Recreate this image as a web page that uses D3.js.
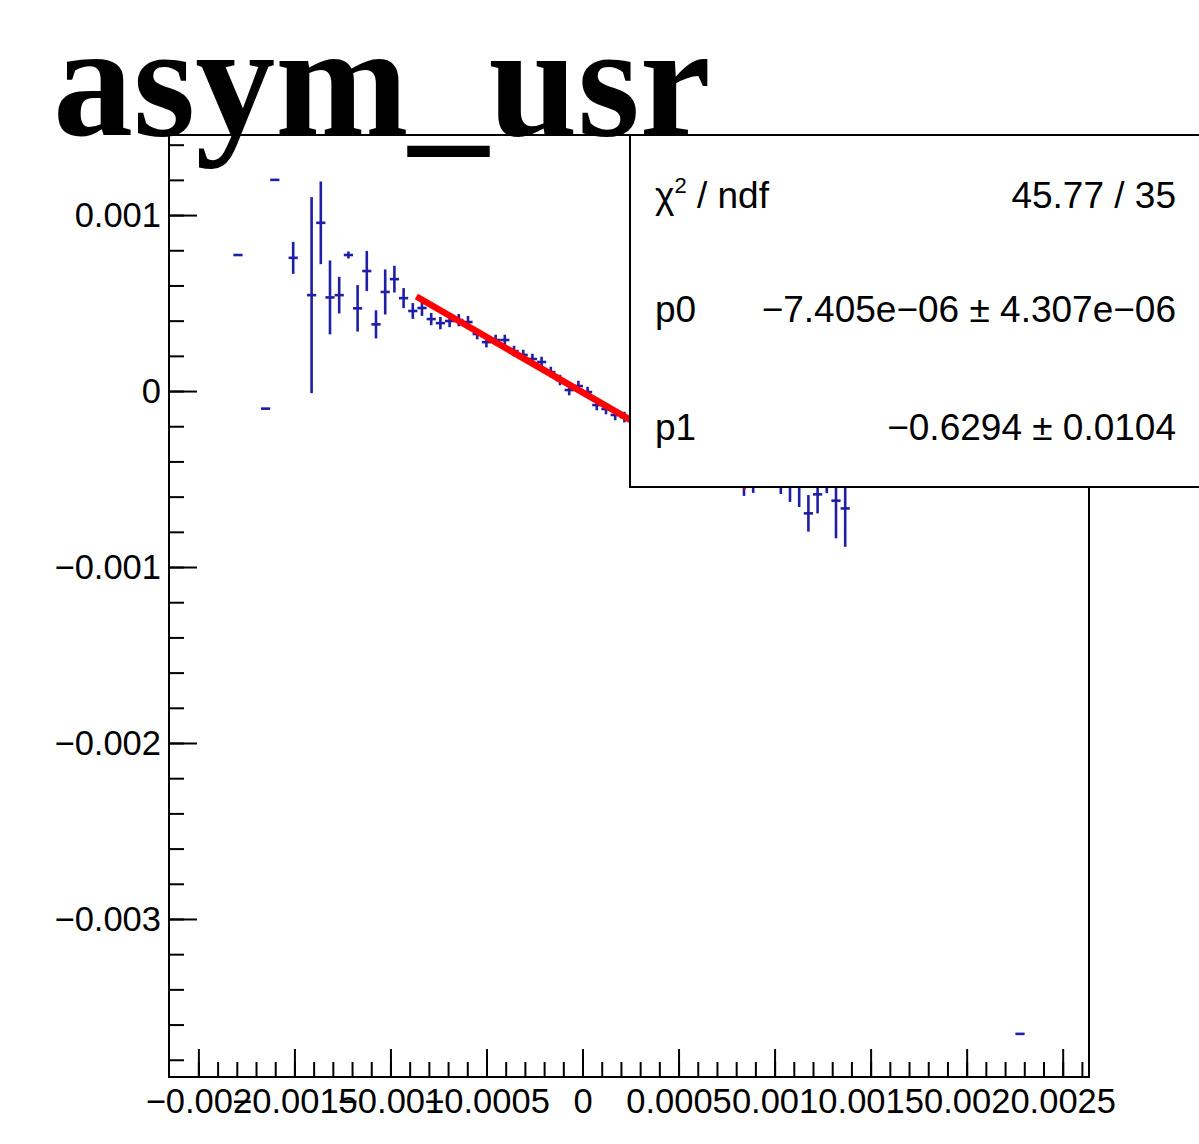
<!DOCTYPE html>
<html><head><meta charset="utf-8">
<script src="https://cdn.jsdelivr.net/npm/d3@7"></script>
<style>body{margin:0;background:#fff}svg{display:block}</style>
</head><body>
<svg id="c" width="1199" height="1144"></svg>
<script>
// ---------- data ----------
const title = "asym_usr";
const histMin = -0.002153, histMax = 0.002637, nBins = 100;
const binIdx = [7, 10, 11, 13, 15, 16, 17, 18, 19, 20, 21, 22, 23, 24, 25, 26, 27, 28, 29, 30,
                31, 32, 33, 34, 35, 36, 37, 38, 39, 40, 41, 42, 43, 44, 45, 46, 47, 48, 49,
                62, 63, 66, 67, 68, 69, 70, 71, 72, 73, 92];
const binVal = [0.000773, -0.0001, 0.0012, 0.000757, 0.000545, 0.000956, 0.000532, 0.000545, 0.000773, 0.00047,
                0.000682, 0.000379, 0.000563, 0.000636, 0.000528, 0.000455, 0.000472, 0.000409, 0.000386, 0.000398,
                0.000403, 0.000392, 0.000324, 0.000278, 0.00029, 0.00029, 0.000227, 0.000205, 0.000182, 0.000165,
                0.000108, 0.0000625, 0.0000057, 0.0000284, -0.0000057, -0.0000795, -0.000102, -0.000136, -0.000148,
                -0.000528, -0.000522, -0.000517, -0.000528, -0.00054, -0.000695, -0.000587, -0.000517, -0.000623, -0.000667,
                -0.003653];
const binErr = [0, 0, 0, 0.000091, 0.000557, 0.000235, 0.00021, 0.000104, 0.00002, 0.000132,
                0.000114, 0.00008, 0.000128, 0.000076, 0.000057, 0.000045, 0.000045, 0.000035, 0.000035, 0.000035,
                0.000035, 0.000035, 0.00003, 0.00003, 0.00003, 0.00003, 0.00003, 0.00003, 0.00003, 0.00003,
                0.00003, 0.00003, 0.00003, 0.00003, 0.00003, 0.00003, 0.00003, 0.00003, 0.00003,
                0.000068, 0.000057, 0.000068, 0.000102, 0.000119, 0.000104, 0.000108, 0.000063, 0.000214, 0.000218,
                0];
const fitP0 = -7.405e-06, fitP1 = -0.6294;
const fitRange = [-0.000865, 0.000855];
const statsNames = ["p0", "p1"];
const statsValues = ["45.77 / 35", "\u22127.405e\u221206 \u00b1 4.307e\u221206", "\u22120.6294 \u00b1 0.0104"];
const xTicks = [-0.002, -0.0015, -0.001, -0.0005, 0, 0.0005, 0.001, 0.0015, 0.002, 0.0025];
const xTickLabels = ["\u22120.002", "\u22120.0015", "\u22120.001", "\u22120.0005", "0", "0.0005", "0.001", "0.0015", "0.002", "0.0025"];
const yTicks = [0.001, 0, -0.001, -0.002, -0.003];
const yTickLabels = ["0.001", "0", "\u22120.001", "\u22120.002", "\u22120.003"];
const yMin = -0.003898, yMax = 0.001455;

// ---------- layout ----------
const svg = d3.select("#c");
const L = 169, R = 1089, T = 135, B = 1077;
const x = d3.scaleLinear().domain([histMin, histMax]).range([L, R]);
const y = d3.scaleLinear().domain([yMax, yMin]).range([T, B]);
const binW = (histMax - histMin) / nBins;
const FONT = "'Liberation Sans', Arial, Helvetica, sans-serif";

// frame
svg.append("rect").attr("x", L).attr("y", T).attr("width", R - L).attr("height", B - T)
  .attr("fill", "none").attr("stroke", "#000").attr("stroke-width", 2);

// x axis
const xMinor = d3.range(-20, 27).map(k => k * 1e-4);
const gxm = svg.append("g").attr("transform", `translate(0,${B})`)
  .call(d3.axisBottom(x).tickValues(xMinor).tickSize(-15).tickFormat(""));
const gx = svg.append("g").attr("transform", `translate(0,${B})`)
  .call(d3.axisBottom(x).tickValues(xTicks).tickSize(-28).tickPadding(12)
    .tickFormat((d, i) => xTickLabels[i]));
// y axis
const yMinor = d3.range(-19, 8).map(k => k * 2e-4);
const gym = svg.append("g").attr("transform", `translate(${L},0)`)
  .call(d3.axisLeft(y).tickValues(yMinor).tickSize(-15).tickFormat(""));
const gy = svg.append("g").attr("transform", `translate(${L},0)`)
  .call(d3.axisLeft(y).tickValues(yTicks).tickSize(-28).tickPadding(8)
    .tickFormat((d, i) => yTickLabels[i]));
[gxm, gx, gym, gy].forEach(g => {
  g.select(".domain").remove();
  g.selectAll("line").attr("stroke", "#000").attr("stroke-width", 2);
  g.selectAll("text").attr("fill", "#000").style("font-family", FONT).style("font-size", "34.5px");
});

// data points with error bars
const pts = binIdx.map((b, i) => ({ c: histMin + (b + 0.5) * binW, v: binVal[i], e: binErr[i] }));
const blue = "#1e1ea6";
const gp = svg.append("g").attr("stroke", blue).attr("stroke-width", 2.6).attr("fill", "none");
gp.selectAll("line.h").data(pts).join("line").attr("class", "h")
  .attr("x1", d => x(d.c - binW / 2)).attr("x2", d => x(d.c + binW / 2))
  .attr("y1", d => y(d.v)).attr("y2", d => y(d.v));
gp.selectAll("line.v").data(pts.filter(d => d.e > 0)).join("line").attr("class", "v")
  .attr("x1", d => x(d.c)).attr("x2", d => x(d.c))
  .attr("y1", d => y(d.v + d.e)).attr("y2", d => y(d.v - d.e));

// fit line
const fitPts = fitRange.map(v => [v, fitP0 + fitP1 * v]);
svg.append("path").datum(fitPts)
  .attr("d", d3.line().x(d => x(d[0])).y(d => y(d[1])))
  .attr("stroke", "#ff0000").attr("stroke-width", 6.5).attr("fill", "none");

// stats box
const sb = svg.append("g");
sb.append("rect").attr("x", 630).attr("y", 135).attr("width", 600).attr("height", 352)
  .attr("fill", "#fff").attr("stroke", "#000").attr("stroke-width", 2);
const rowsY = [208, 322, 440];
const t0 = sb.append("text").attr("x", 655).attr("y", rowsY[0])
  .style("font-family", FONT).style("font-size", "37px").attr("fill", "#000");
t0.append("tspan").text("\u03c7");
t0.append("tspan").attr("dy", -15).style("font-size", "22px").text("2");
t0.append("tspan").attr("dy", 15).text(" / ndf");
statsNames.forEach((n, i) => {
  sb.append("text").attr("x", 655).attr("y", rowsY[i + 1])
    .style("font-family", FONT).style("font-size", "37px").attr("fill", "#000").text(n);
});
statsValues.forEach((v, i) => {
  sb.append("text").attr("x", 1176).attr("y", rowsY[i]).attr("text-anchor", "end")
    .style("font-family", FONT).style("font-size", "37px").attr("fill", "#000").text(v);
});

// title
svg.append("text").attr("x", 53).attr("y", 135)
  .style("font-family", "'Liberation Serif', 'Times New Roman', serif")
  .style("font-weight", "bold").style("font-size", "160px").attr("fill", "#000")
  .text(title);
</script>
</body></html>
